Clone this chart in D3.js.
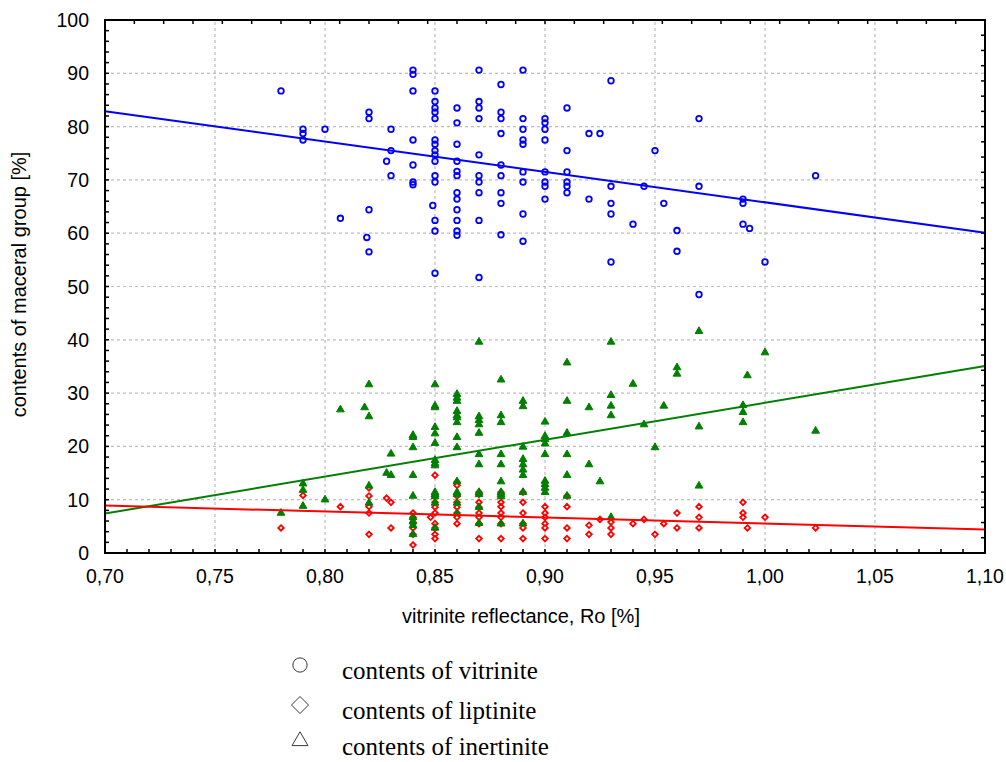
<!DOCTYPE html>
<html>
<head>
<meta charset="utf-8">
<script src="https://cdn.jsdelivr.net/npm/d3@7"></script>
<style>
  body { margin: 0; background: #fff; }
  svg { display: block; }
</style>
</head>
<body>
<script>
// chart size and plot frame
const width = 1006;
const height = 762;
const margin = { top: 20, right: 21, bottom: 209, left: 105 };
const plotW = width - margin.left - margin.right;
const plotH = height - margin.top - margin.bottom;

// data: [Ro, content %]
const vitrinite = [
  [0.78,86.7],
  [0.79,79.5],[0.79,78.7],[0.79,77.5],
  [0.80,79.5],
  [0.807,62.8],
  [0.82,82.7],[0.82,81.5],[0.82,64.4],[0.819,59.2],[0.82,56.5],
  [0.828,73.5],
  [0.83,79.5],[0.83,75.5],[0.83,70.8],
  [0.84,90.6],[0.84,89.8],[0.84,86.7],[0.84,77.5],[0.84,72.8],[0.84,69.6],[0.84,69.1],
  [0.849,65.2],
  [0.85,86.7],[0.85,84.7],[0.85,83.5],[0.85,82.7],[0.85,81.5],[0.85,77.5],[0.85,76.7],[0.85,75.5],
  [0.85,74.7],[0.85,73.5],[0.85,70.8],[0.85,69.6],[0.85,62.4],[0.85,60.4],[0.85,52.5],
  [0.86,83.5],[0.86,80.7],[0.86,76.7],[0.86,73.5],[0.86,71.6],[0.86,70.8],[0.86,67.6],[0.86,66.4],
  [0.86,64.4],[0.86,62.4],[0.86,60.4],[0.86,59.6],
  [0.87,90.6],[0.87,84.7],[0.87,83.5],[0.87,81.5],[0.87,74.7],[0.87,70.8],[0.87,69.6],[0.87,67.6],
  [0.87,62.4],[0.87,51.7],
  [0.88,87.9],[0.88,82.7],[0.88,81.5],[0.88,78.7],[0.88,72.8],[0.88,70.8],[0.88,67.6],[0.88,65.6],[0.88,59.7],
  [0.89,90.6],[0.89,81.5],[0.89,79.5],[0.89,77.5],[0.89,76.7],[0.89,71.5],[0.89,69.6],[0.89,63.6],[0.89,58.5],
  [0.90,81.5],[0.90,80.7],[0.90,79.5],[0.90,77.5],[0.90,71.5],[0.90,69.6],[0.90,68.8],[0.90,66.4],
  [0.91,83.5],[0.91,75.5],[0.91,71.5],[0.91,69.6],[0.91,68.8],[0.91,67.6],
  [0.92,78.7],[0.92,66.4],
  [0.925,78.7],
  [0.93,88.6],[0.93,68.8],[0.93,65.6],[0.93,63.6],[0.93,54.6],
  [0.94,61.7],
  [0.945,68.8],
  [0.95,75.5],
  [0.954,65.6],
  [0.96,60.5],[0.96,56.6],
  [0.97,81.5],[0.97,68.8],[0.97,48.5],
  [0.99,66.4],[0.99,65.6],[0.99,61.7],
  [0.993,60.9],
  [1.00,54.6],
  [1.023,70.8]
];

const liptinite = [
  [0.78,4.7],
  [0.79,10.8],
  [0.807,8.7],
  [0.82,12.2],[0.82,10.7],[0.82,8.7],[0.82,7.5],[0.82,3.5],
  [0.828,10.3],[0.83,9.5],[0.83,4.7],
  [0.84,7.5],[0.84,6.7],[0.84,5.5],[0.84,4.7],[0.84,3.5],[0.84,1.5],
  [0.85,14.6],[0.85,10.6],[0.85,9.5],[0.85,8.6],[0.85,7.5],[0.848,6.7],[0.85,5.5],[0.85,4.7],[0.85,3.5],[0.85,2.7],
  [0.86,13.3],[0.86,12.7],[0.86,10.7],[0.86,9.5],[0.86,8.6],[0.86,7.5],[0.86,6.7],[0.86,5.5],
  [0.87,11.4],[0.87,11.0],[0.87,9.5],[0.87,8.6],[0.87,7.5],[0.87,6.7],[0.87,5.5],[0.87,2.7],
  [0.88,11.4],[0.88,9.5],[0.88,8.7],[0.88,7.5],[0.88,6.7],[0.88,5.5],[0.88,2.7],
  [0.89,11.4],[0.89,9.5],[0.89,7.5],[0.89,5.5],[0.89,4.7],[0.89,2.7],
  [0.90,8.7],[0.90,7.5],[0.90,6.7],[0.90,5.5],[0.90,4.7],[0.90,2.7],
  [0.91,10.7],[0.91,8.7],[0.91,4.7],[0.91,2.7],
  [0.92,5.2],[0.92,3.5],
  [0.925,6.3],
  [0.93,5.8],[0.93,4.7],[0.93,3.5],
  [0.94,5.5],[0.945,6.3],[0.95,3.5],[0.954,5.5],
  [0.96,7.5],[0.96,4.7],
  [0.97,8.7],[0.97,6.7],[0.97,4.7],
  [0.99,9.5],[0.99,7.5],[0.99,6.7],
  [0.992,4.7],[1.00,6.7],[1.023,4.7]
];

const inertinite = [
  [0.78,7.5],
  [0.79,13.0],[0.79,11.8],[0.79,8.8],
  [0.80,10.0],
  [0.807,26.9],
  [0.82,31.6],[0.818,27.3],[0.82,25.6],[0.82,12.6],[0.82,9.4],
  [0.828,15.0],
  [0.83,18.6],[0.83,14.6],
  [0.84,22.1],[0.84,21.7],[0.84,19.8],[0.84,14.6],[0.84,10.7],[0.84,6.7],[0.84,6.0],[0.84,5.2],[0.84,3.5],
  [0.85,31.6],[0.85,27.6],[0.85,27.3],[0.85,23.6],[0.85,22.4],[0.85,20.6],[0.85,17.4],[0.85,16.8],[0.85,16.4],
  [0.85,11.4],[0.85,11.0],[0.85,10.6],[0.85,9.4],[0.85,4.7],
  [0.86,29.8],[0.86,29.1],[0.86,28.5],[0.86,26.6],[0.86,25.8],[0.86,25.4],[0.86,24.5],[0.86,21.7],[0.86,19.8],
  [0.86,13.4],[0.86,11.4],[0.86,11.0],[0.86,9.4],[0.86,7.4],
  [0.87,39.6],[0.87,25.6],[0.87,24.9],[0.87,24.1],[0.87,22.5],[0.87,18.5],[0.87,16.6],[0.87,11.4],[0.87,11.0],
  [0.87,8.6],[0.87,5.6],
  [0.88,32.5],[0.88,25.8],[0.88,24.5],[0.88,18.5],[0.88,16.6],[0.88,13.4],[0.88,11.4],[0.88,11.0],[0.88,10.6],[0.88,5.5],
  [0.89,28.5],[0.89,27.5],[0.89,19.9],[0.89,17.6],[0.89,16.6],[0.89,15.6],[0.89,14.6],[0.89,11.4],[0.89,5.5],
  [0.90,24.6],[0.90,21.9],[0.90,21.3],[0.90,20.5],[0.90,18.5],[0.90,13.5],[0.90,12.9],[0.90,12.2],[0.90,11.4],
  [0.91,35.7],[0.91,28.5],[0.91,22.5],[0.91,18.5],[0.91,14.6],[0.91,10.7],
  [0.92,27.3],[0.92,16.6],
  [0.925,13.4],
  [0.93,39.6],[0.93,29.6],[0.93,27.6],[0.93,25.8],[0.93,6.7],
  [0.94,31.7],
  [0.945,24.1],
  [0.95,19.8],
  [0.954,27.6],
  [0.96,34.8],[0.96,33.6],
  [0.97,41.6],[0.97,23.7],[0.97,12.6],
  [0.99,27.7],[0.99,26.4],[0.99,24.5],
  [0.992,33.3],
  [1.00,37.6],
  [1.023,22.9]
];

// fitted lines, values at Ro = 0.70 and 1.10
const fitRo = [0.70, 1.10];
const vitriniteFit = [82.9, 60.1];
const liptiniteFit = [8.9, 4.4];
const inertiniteFit = [7.4, 35.1];

const xTicks = [0.70, 0.75, 0.80, 0.85, 0.90, 0.95, 1.00, 1.05, 1.10];
const yTicks = [0, 10, 20, 30, 40, 50, 60, 70, 80, 90, 100];
const legendLabels = ["contents of vitrinite", "contents of liptinite", "contents of inertinite"];

const svg = d3.select("body").append("svg")
  .attr("width", width)
  .attr("height", height);

const x = d3.scaleLinear().domain([0.70, 1.10]).range([margin.left, margin.left + plotW]);
const y = d3.scaleLinear().domain([0, 100]).range([margin.top + plotH, margin.top]);

const fmt = d => d.toFixed(2).replace(".", ",");

// square diamond (rotated square), r = half diagonal
const diamondPath = r => `M0,${-r}L${r},0L0,${r}L${-r},0Z`;

// grid lines
const grid = svg.append("g")
  .attr("stroke", "#bdbdbd")
  .attr("stroke-width", 1.2)
  .attr("stroke-dasharray", "3,3");
grid.selectAll(".vg")
  .data(xTicks.slice(1, -1))
  .enter().append("line")
  .attr("x1", d => x(d)).attr("x2", d => x(d))
  .attr("y1", y(0)).attr("y2", y(100));
grid.selectAll(".hg")
  .data(yTicks.slice(1, -1))
  .enter().append("line")
  .attr("x1", x(0.70)).attr("x2", x(1.10))
  .attr("y1", d => y(d)).attr("y2", d => y(d));

// minor ticks: bottom every 0.01, left every 2, top 30 and right 35 divisions
const tickG = svg.append("g").attr("stroke", "#000").attr("stroke-width", 1.5);
const bottomTicks = d3.range(0, 41).map(i => 0.70 + i * 0.01);
const leftTicks = d3.range(0, 51).map(i => i * 2);
const topTicks = d3.range(0, 31).map(i => 0.70 + i * 0.4 / 30);
const rightTicks = d3.range(0, 36).map(i => i * 100 / 35);
tickG.selectAll(".bt").data(bottomTicks).enter().append("line")
  .attr("x1", d => x(d)).attr("x2", d => x(d))
  .attr("y1", y(0)).attr("y2", y(0) - 4);
tickG.selectAll(".tt").data(topTicks).enter().append("line")
  .attr("x1", d => x(d)).attr("x2", d => x(d))
  .attr("y1", y(100)).attr("y2", y(100) + 4);
tickG.selectAll(".lt").data(leftTicks).enter().append("line")
  .attr("x1", x(0.70)).attr("x2", x(0.70) + 4)
  .attr("y1", d => y(d)).attr("y2", d => y(d));
tickG.selectAll(".rt").data(rightTicks).enter().append("line")
  .attr("x1", x(1.10)).attr("x2", x(1.10) - 4)
  .attr("y1", d => y(d)).attr("y2", d => y(d));

// tick labels
svg.append("g").selectAll("text")
  .data(xTicks).enter().append("text")
  .attr("x", d => x(d))
  .attr("y", y(0) + 30)
  .attr("text-anchor", "middle")
  .style("font-family", "Liberation Sans, Arial, sans-serif")
  .style("font-size", "19.5px")
  .text(fmt);

svg.append("g").selectAll("text")
  .data(yTicks).enter().append("text")
  .attr("x", x(0.70) - 16)
  .attr("y", d => y(d) + 7)
  .attr("text-anchor", "end")
  .style("font-family", "Liberation Sans, Arial, sans-serif")
  .style("font-size", "19.5px")
  .text(d => d);

// axis titles
svg.append("text")
  .attr("x", 521)
  .attr("y", 623)
  .attr("text-anchor", "middle")
  .style("font-family", "Liberation Sans, Arial, sans-serif")
  .style("font-size", "20px")
  .text("vitrinite reflectance, Ro [%]");

svg.append("text")
  .attr("transform", `translate(26, ${y(50) - 2}) rotate(-90)`)
  .attr("text-anchor", "middle")
  .style("font-family", "Liberation Sans, Arial, sans-serif")
  .style("font-size", "20px")
  .text("contents of maceral group [%]");

// scatter points
const plot = svg.append("g");

plot.selectAll(".vit").data(vitrinite).enter().append("circle")
  .attr("cx", d => x(d[0]))
  .attr("cy", d => y(d[1]))
  .attr("r", 2.8)
  .attr("fill", "none")
  .attr("stroke", "#0000ff")
  .attr("stroke-width", 1.8);

plot.selectAll(".lip").data(liptinite).enter().append("path")
  .attr("transform", d => `translate(${x(d[0])},${y(d[1])})`)
  .attr("d", diamondPath(2.8))
  .attr("fill", "#fff")
  .attr("stroke", "#ff0000")
  .attr("stroke-width", 1.8);

const triangle = d3.symbol().type(d3.symbolTriangle).size(26);
plot.selectAll(".ine").data(inertinite).enter().append("path")
  .attr("transform", d => `translate(${x(d[0])},${y(d[1])})`)
  .attr("d", triangle)
  .attr("fill", "#007f00")
  .attr("stroke", "#007f00")
  .attr("stroke-width", 1);

// fitted lines
const fits = [
  { vals: vitriniteFit, color: "#0000ff" },
  { vals: inertiniteFit, color: "#007f00" },
  { vals: liptiniteFit, color: "#ff0000" }
];
const line = d3.line().x(d => x(d[0])).y(d => y(d[1]));
fits.forEach(f => {
  plot.append("path")
    .datum(fitRo.map((r, i) => [r, f.vals[i]]))
    .attr("d", line)
    .attr("fill", "none")
    .attr("stroke", f.color)
    .attr("stroke-width", 2);
});

// frame
svg.append("rect")
  .attr("x", x(0.70)).attr("y", y(100))
  .attr("width", x(1.10) - x(0.70))
  .attr("height", y(0) - y(100))
  .attr("fill", "none")
  .attr("stroke", "#000")
  .attr("stroke-width", 2);

// legend
const legend = svg.append("g");
const legendY = [672, 712, 748];
const legendShapes = [
  d3.symbol().type(d3.symbolCircle).size(160)(),
  diamondPath(8.5),
  d3.symbol().type(d3.symbolTriangle).size(110)()
];
legend.selectAll("path").data(legendLabels).enter().append("path")
  .attr("transform", (d, i) => `translate(300,${legendY[i] - 7})`)
  .attr("d", (d, i) => legendShapes[i])
  .attr("fill", "none")
  .attr("stroke", "#222")
  .attr("stroke-width", 0.9);
legend.selectAll("text").data(legendLabels).enter().append("text")
  .attr("x", 342)
  .attr("y", (d, i) => legendY[i] + 7)
  .style("font-family", "Liberation Serif, Times New Roman, serif")
  .style("font-size", "25px")
  .text(d => d);
</script>
</body>
</html>
